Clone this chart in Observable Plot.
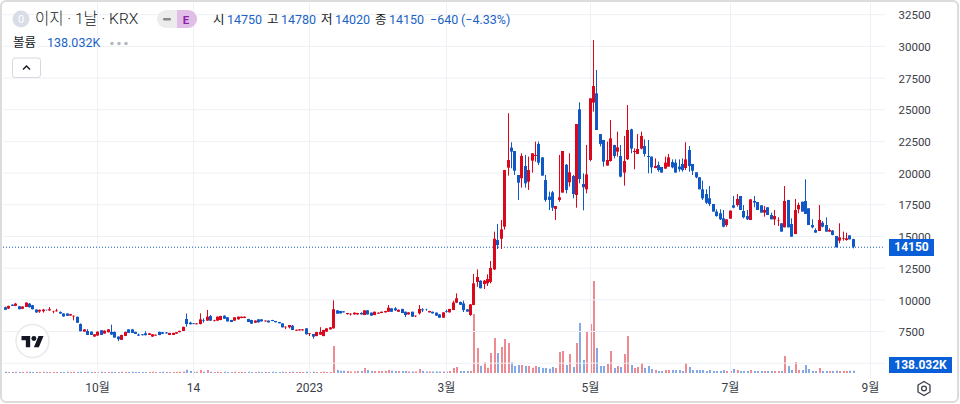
<!DOCTYPE html>
<html lang="ko">
<head>
<meta charset="utf-8">
<script src="https://cdn.jsdelivr.net/npm/d3@7"></script>
<script src="https://cdn.jsdelivr.net/npm/@observablehq/plot@0.6"></script>
<style>
html,body{margin:0;padding:0;background:#fff;}
#stage{position:relative;width:960px;height:404px;overflow:hidden;font-family:Roboto,"Noto Sans CJK KR",sans-serif;}
#stage svg.plot-layer{position:absolute;left:0;top:0;}
.t{position:absolute;white-space:nowrap;line-height:16px;font-size:12.5px;color:#131722;}
.b{color:#1a64c6;}
.frame{position:absolute;left:0;top:0;width:955px;height:399px;border:2px solid #dcdcdc;border-radius:6px;pointer-events:none;}
.tag{position:absolute;background:#0a5fd8;color:#fff;font-weight:700;font-size:12px;text-align:center;line-height:16px;}
</style>
</head>
<body>
<div id="stage"></div>
<script>
const open = [
9380,9270,9580,9480,9450,9250,9400,9660,9530,9190,
9040,9060,9170,9120,9010,9060,9010,8880,8880,8720,
8650,8620,8050,7450,7500,7450,7060,7140,7560,7300,
7400,7430,7430,7060,6800,7110,7630,7630,7430,7220,
7240,7320,7190,7060,7140,7430,7400,7380,7190,7190,
7290,7410,7500,8450,8160,8100,8030,8050,8370,8320,
8680,8320,8320,8370,8710,8580,8370,8320,8420,8530,
8530,8450,8370,8160,8420,8420,8260,8320,8370,8290,
8210,8100,7790,7790,7920,7530,7550,7550,7710,7260,
7260,7100,7210,7100,7450,7630,7710,9130,9080,9050,
8840,8810,8810,8810,8920,8760,9130,8950,8760,8870,
8920,8970,9020,9290,9290,9020,9240,9020,8810,9020,
8660,8890,9210,9180,8970,9020,8950,8810,8550,9080,
8970,9160,9740,9790,9680,9210,8760,9550,11370,11470,
11210,11260,11370,12360,14680,14780,15730,20390,21970,21700,
19810,19550,20520,19280,20940,21310,22260,21200,19410,18100,
18440,17130,17840,18420,20620,19230,19730,18230,24990,19100,
18680,20990,25520,26250,23040,22570,20550,20910,22180,21650,
21310,20000,21050,23410,21620,21470,21890,22100,21310,21260,
20360,20600,20440,20310,20470,20830,20780,20470,20680,20360,
21780,20680,20020,19630,18680,18310,17970,17520,16920,16790,
16390,15860,16360,17420,17440,18150,16970,16570,16260,17760,
17680,17420,16840,17260,16650,16310,16180,16000,15680,17840,
15940,15150,17100,17700,17760,17180,15860,15470,15390,16050,
15860,15340,15420,15000,14630,14790,14680,15050,14750];
const high = [
9430,9500,9600,9720,9480,9450,9760,9700,9560,9210,
9190,9250,9180,9380,9100,9250,9040,8900,8900,8850,
8730,8640,8100,7640,7650,7460,7250,7460,7570,7540,
7640,8000,7450,7080,7200,7440,7640,7640,7440,7300,
7260,7480,7330,7250,7220,7450,7420,7420,7360,7360,
7420,7520,7850,8880,8230,8120,8110,8890,8500,9160,
8760,8380,8650,8700,8730,8600,8380,8590,8640,8640,
8650,8460,8380,8330,8430,8430,8330,8330,8380,8300,
8220,8110,7850,7980,7980,7610,7640,7640,7720,7330,
7270,7430,7800,7590,7720,7800,9920,9140,9090,9070,
8930,8880,8960,8930,8980,9140,9140,8960,9030,8960,
9040,9090,9550,9300,9390,9190,9250,9030,8980,9030,
8720,9550,9300,9260,9090,9030,8960,8820,8980,9180,
9250,9880,10470,9820,9900,9220,9620,12000,12360,11500,
11530,11970,13020,15340,15940,16260,20210,24680,22390,21700,
19810,21520,21390,21260,21520,22440,22440,21200,19810,18500,
18550,17360,21390,21700,20680,21520,19810,23830,25540,19940,
22180,25860,30460,28090,23040,22570,22440,24150,22180,23230,
22180,22890,25330,23460,21910,23040,23230,22620,22570,21260,
21120,20860,20440,21260,21470,21040,21040,21040,21120,22390,
22100,20680,20020,19630,19360,18680,18940,17520,17100,17100,
17050,16310,17000,18150,18310,18150,17440,17050,17890,18150,
17680,17420,17360,17260,16840,17050,16470,16000,18940,17840,
16390,17920,17630,17700,19470,17180,16310,15600,17440,16180,
16470,15600,15470,15000,16000,15340,15260,15050,14780];
const low = [
9170,9240,9470,9460,9210,9240,9390,9350,9200,8950,
8930,8950,9130,9100,8900,9030,8860,8620,8680,8700,
8340,8150,7480,7440,7180,7190,7050,7130,7190,7290,
7390,7210,6980,6700,6790,7100,7340,7340,7270,7100,
7150,7150,7180,7040,7130,7170,7270,7300,7180,7180,
7280,7400,7490,7840,8020,8040,8020,8020,8160,8300,
8300,8250,8300,8350,8460,8250,8200,8300,8400,8510,
8510,8200,8070,8140,8170,8250,8240,8170,8280,8180,
8100,7780,7650,7700,7570,7510,7530,7530,7230,7100,
6900,7090,7200,7090,7440,7620,7700,8860,8880,8960,
8780,8720,8790,8790,8800,8750,8800,8700,8750,8860,
8910,8960,9010,9010,9080,9010,8910,8600,8790,8620,
8600,8800,9000,9100,8960,8880,8700,8540,8540,8950,
8960,9150,9700,9550,9000,9020,8700,9540,10990,10870,
10810,11050,11260,12310,13970,13970,15500,19760,20340,19810,
17840,18810,18810,18630,19990,20860,20600,19760,17700,17050,
16970,16260,17700,18420,18360,18890,17970,17230,19150,17020,
18360,20900,24810,23360,22060,20470,20550,20860,21120,21260,
19620,18970,20990,21520,20260,21470,21830,21260,19940,19940,
20340,20070,20000,20310,20470,20340,20000,20070,20070,20200,
20070,19810,19550,18680,17840,17520,17360,16920,16520,16260,
15680,15730,16360,17180,17310,17050,16390,16260,16260,17260,
17050,16840,16520,16650,16310,15860,15790,15340,15680,15680,
14940,15150,16790,16920,16730,15860,15600,15260,15390,15680,
15340,15340,15050,14100,14420,14630,14630,14730,14020];
const close = [
9170,9480,9480,9660,9220,9430,9740,9380,9220,8960,
9170,9190,9140,9220,9040,9120,8880,8650,8700,8830,
8700,8150,7480,7630,7190,7190,7240,7450,7190,7530,
7630,7220,6980,6850,7190,7430,7350,7350,7270,7140,
7170,7170,7320,7240,7210,7180,7280,7310,7350,7350,
7410,7510,7820,8050,8030,8050,8100,8420,8320,8630,
8320,8370,8630,8680,8470,8260,8210,8580,8630,8630,
8630,8210,8080,8320,8180,8260,8320,8180,8290,8190,
8110,7790,7840,7970,7580,7600,7630,7630,7240,7320,
7050,7420,7420,7580,7710,7790,9220,8870,8890,8970,
8920,8870,8950,8920,8810,9130,8810,8710,9020,8950,
9020,9080,9340,9020,9130,9180,8920,8760,8970,8630,
8710,9240,9130,9160,9080,8890,8710,8550,8970,9020,
9240,9750,10080,9570,9150,9030,9600,11260,11760,10870,
11470,11600,12470,14780,14280,15520,20200,20990,21650,20150,
19200,21310,19150,20200,21520,21390,20780,19760,17840,17840,
17230,17360,18050,21700,18630,20020,18310,23830,19490,18840,
19860,25860,26830,23360,22260,20860,20990,22700,21310,21990,
19680,20910,23360,21890,21700,21860,22890,21470,21230,20410,
20520,20200,20000,20780,21200,20410,20000,20260,20200,21040,
20520,20150,19630,18680,17970,17620,17520,16920,16570,16310,
15730,16310,17000,17230,17920,17050,16470,16310,17890,17630,
17050,16840,17050,16650,16310,16570,16210,15340,17760,15680,
14940,17050,17440,16920,16730,15860,15680,15260,16260,15730,
15340,15470,15080,14100,14890,14840,14810,14730,14150];
const volumeK = [
70,65,60,70,65,60,75,70,60,65,
60,70,60,65,60,60,65,60,70,60,
70,65,80,60,70,65,60,65,70,60,
65,70,60,65,70,65,60,70,60,65,
60,65,60,70,60,65,70,60,65,60,
60,70,90,200,120,80,70,180,70,180,
70,60,70,60,70,65,60,70,65,60,
65,70,60,65,70,60,65,60,70,65,
60,70,60,65,70,60,65,60,70,60,
70,65,60,70,65,60,1620,180,138,138,
120,90,90,120,120,300,180,120,120,120,
120,120,180,138,120,120,120,120,90,90,
90,240,120,90,90,90,90,90,90,90,
120,300,360,120,120,120,120,3540,1500,438,
642,318,1200,2100,1200,1560,2040,1800,642,420,
480,480,420,420,318,420,360,300,300,258,
360,300,1260,1320,480,1140,360,1800,3000,780,
2460,2940,5520,1500,420,420,540,1320,300,420,
360,1140,2220,480,300,360,600,300,420,240,
180,120,120,180,180,180,180,180,120,600,
360,180,180,180,180,120,180,120,120,120,
180,120,120,240,180,120,120,120,180,120,
120,120,120,120,120,120,120,120,1020,420,
180,660,180,180,480,240,120,120,300,120,
120,120,120,138,120,138,120,138,138];
const tickIndex = [27,55,89,129,171,212,253];
const tickText = ["10월","14","2023","3월","5월","7월","9월"];
const gridPrices = [5000,7500,10000,12500,15000,17500,20000,22500,25000,27500,30000,32500];
const labelPrices = [7500,10000,12500,15000,17500,20000,22500,25000,27500,30000,32500];
const lastClose = 14150;

const rows = d3.range(close.length).map(i => ({i, o: open[i], h: high[i], l: low[i], c: close[i], v: volumeK[i]}));
const up = rows.filter(d => d.c >= d.o);
const down = rows.filter(d => d.c < d.o);

const RED = "#d9081c", BLUE = "#0f58c6";
const xScale = {domain: [-0.6, 257.4], round: true};
const fontFamily = 'Roboto,"Noto Sans CJK KR",sans-serif';

const wickAndBody = (data, color) => [
  Plot.ruleX(data, {x: "i", y1: "l", y2: "h", stroke: color, strokeWidth: 1}),
  Plot.ruleX(data, {x: "i", y1: "o", y2: "c", stroke: color, strokeWidth: 3})
];

const volPlot = Plot.plot({
  width: 960, height: 404,
  marginLeft: 3, marginRight: 75, marginTop: 273, marginBottom: 31,
  x: {...xScale, axis: null},
  y: {domain: [0, 6000], axis: null},
  style: {background: "transparent"},
  marks: [
    Plot.ruleX(up, {x: "i", y1: 0, y2: "v", stroke: "#ee8a92", strokeWidth: 2, dx: 0.5}),
    Plot.ruleX(down, {x: "i", y1: 0, y2: "v", stroke: "#84a9e4", strokeWidth: 2, dx: 0.5})
  ]
});
volPlot.classList.add("plot-layer");

const mainPlot = Plot.plot({
  width: 960, height: 404,
  marginLeft: 3, marginRight: 75, marginTop: 3, marginBottom: 26,
  x: xScale,
  y: {domain: [3792, 33379]},
  style: {background: "transparent", fontFamily, fontSize: "11.5px", color: "#3a3e48"},
  marks: [
    Plot.gridX({ticks: tickIndex, stroke: "#eef0f5", strokeOpacity: 1}),
    Plot.gridY({ticks: gridPrices, stroke: "#eef0f5", strokeOpacity: 1}),
    Plot.ruleY([lastClose], {stroke: BLUE, strokeDasharray: "1,2", strokeWidth: 1}),
    ...wickAndBody(up, RED),
    ...wickAndBody(down, BLUE),
    Plot.axisY({anchor: "right", ticks: labelPrices, tickSize: 0, tickPadding: 13, tickFormat: d3.format("d"), label: null, dy: 1}),
    Plot.axisX({anchor: "bottom", ticks: tickIndex, tickSize: 0, tickPadding: 5, fontSize: 12, tickFormat: i => tickText[tickIndex.indexOf(i)], label: null})
  ]
});
mainPlot.classList.add("plot-layer");

const stage = document.getElementById("stage");
stage.append(volPlot, mainPlot);

const addText = (s, left, top, cls = "") => {
  const el = document.createElement("div");
  el.className = "t " + cls;
  el.style.left = left + "px";
  el.style.top = top + "px";
  el.textContent = s;
  stage.append(el);
  return el;
};
const title = addText("이지 · 1날 · KRX", 35, 11);
title.style.fontSize = "15.5px";
title.style.fontWeight = "300";
[["시",213,0],["14750",227,1],["고",267,0],["14780",281,1],["저",321,0],["14020",335,1],["종",375,0],["14150",389,1],["−640",430,1],["(−4.33%)",461,1]]
  .forEach(([s, x, b]) => addText(s, x, 12, b ? "b" : ""));
addText("볼륨", 13, 35);
addText("138.032K", 47, 35, "b");

const tag1 = document.createElement("div");
tag1.className = "tag"; tag1.textContent = "14150";
tag1.style.cssText = "left:889px;top:239px;width:45px;height:17px;";
const tag2 = document.createElement("div");
tag2.className = "tag"; tag2.textContent = "138.032K";
tag2.style.cssText = "left:889px;top:357px;width:63px;height:16px;";
stage.append(tag1, tag2);

const deco = document.createElement("div");
deco.innerHTML = `
<svg width="960" height="404" style="position:absolute;left:0;top:0">
  <circle cx="21" cy="19" r="8.5" fill="#d8dde8"/>
  <text x="21" y="23" text-anchor="middle" font-size="11" fill="#fff" font-family="Roboto">0</text>
  <rect x="157" y="10" width="40" height="18" rx="9" fill="#ececec"/>
  <path d="M177 10h11a9 9 0 0 1 0 18h-11z" fill="#e1bee7"/>
  <rect x="163" y="18" width="8" height="2.5" rx="1" fill="#8a8a8a"/>
  <text x="186" y="24" text-anchor="middle" font-size="11.5" font-weight="700" fill="#8e24aa" font-family="Roboto">E</text>
  <circle cx="112" cy="43.5" r="1.8" fill="#b5b8c0"/><circle cx="119" cy="43.5" r="1.8" fill="#b5b8c0"/><circle cx="126" cy="43.5" r="1.8" fill="#b5b8c0"/>
  <rect x="12.5" y="58" width="28" height="19.5" rx="2.5" fill="#fff" stroke="#d6d8de"/>
  <path d="M23 69.5l3.5-3.5 3.5 3.5" fill="none" stroke="#131722" stroke-width="1.4"/>
  <circle cx="32.5" cy="341" r="16.5" fill="#fff" stroke="#e9e9ec" stroke-width="1.5"/>
  <g transform="translate(21.5,333.5) scale(0.62)" fill="#131722">
    <path d="M14 22H7V11H0V4h14v18zM28 22h-8l7.5-18h8L28 22z"/><circle cx="20" cy="8" r="4"/>
  </g>
  <path d="M924 381.5l6 3.5v7l-6 3.5-6-3.5v-7z" fill="none" stroke="#3a3e48" stroke-width="1.3"/>
  <circle cx="924" cy="388.5" r="2.4" fill="none" stroke="#3a3e48" stroke-width="1.3"/>
</svg>
<div class="frame"></div>`;
stage.append(deco);
</script>
</body>
</html>
